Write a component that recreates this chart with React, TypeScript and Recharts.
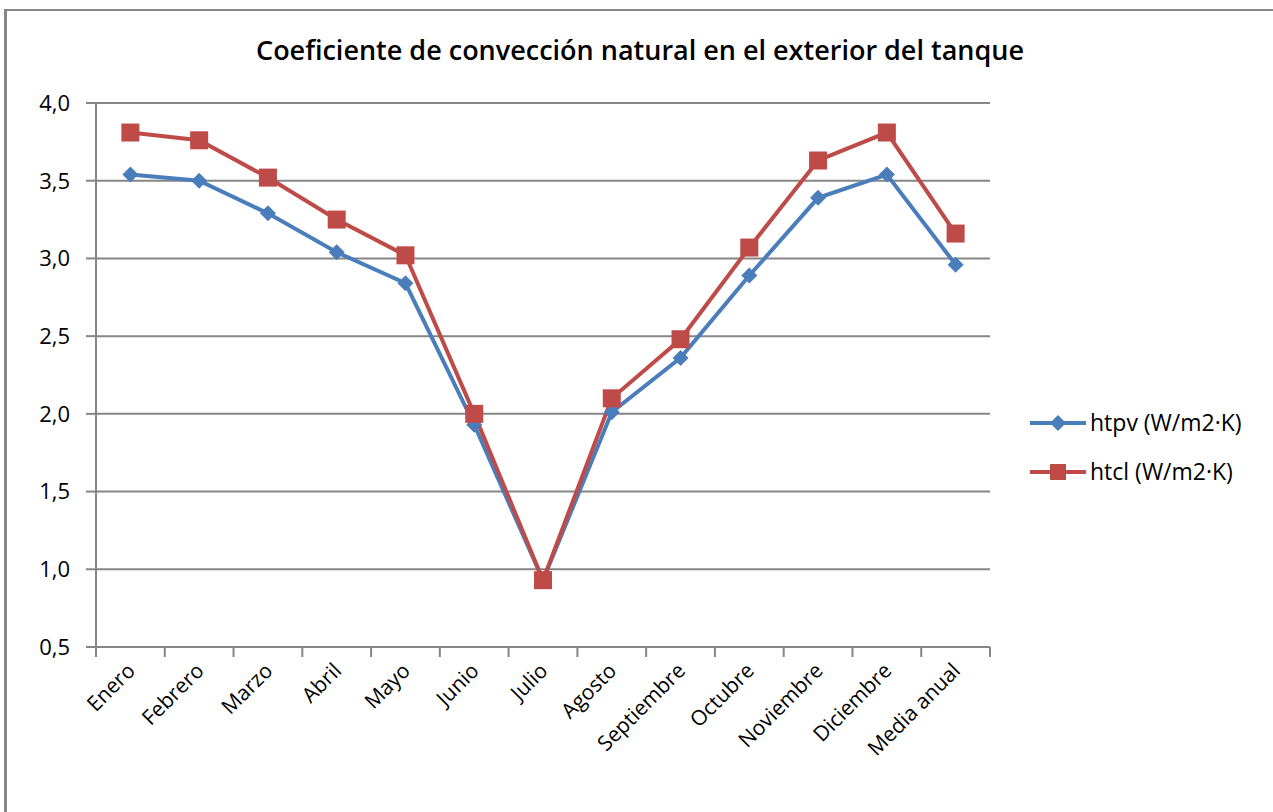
import { LineChart, Line, XAxis, YAxis, CartesianGrid } from 'recharts';

const MONTHS = [
  'Enero', 'Febrero', 'Marzo', 'Abril', 'Mayo', 'Junio', 'Julio',
  'Agosto', 'Septiembre', 'Octubre', 'Noviembre', 'Diciembre', 'Media anual',
];
const HTPV = [3.54, 3.5, 3.29, 3.04, 2.84, 1.93, 0.93, 2.01, 2.36, 2.89, 3.39, 3.54, 2.96];
const HTCL = [3.81, 3.76, 3.52, 3.25, 3.02, 2.0, 0.93, 2.1, 2.48, 3.07, 3.63, 3.81, 3.16];
const Y_TICKS = [0.5, 1, 1.5, 2, 2.5, 3, 3.5, 4];
const EDGE_TICKS = MONTHS.map((_, i) => i).concat(MONTHS.length);

const BLUE = '#4A7EBB';
const RED = '#BE4B48';
const GRID = '#868686';
const FONT = '"Open Sans", sans-serif';

const data = MONTHS.map((m, i) => ({ name: m, idx: i + 0.5, htpv: HTPV[i], htcl: HTCL[i] }));

const Diamond = ({ cx, cy, color, size = 8 }: any) =>
  cx == null ? null : (
    <polygon
      points={`${cx},${cy - size} ${cx + size},${cy} ${cx},${cy + size} ${cx - size},${cy}`}
      fill={color}
    />
  );

const Square = ({ cx, cy, color, size = 9 }: any) =>
  cx == null ? null : <rect x={cx - size} y={cy - size} width={size * 2} height={size * 2} fill={color} />;

const MonthTick = ({ x, y, payload }: any) => (
  <text
    x={x + 6}
    y={y + 16}
    transform={`rotate(-45 ${x + 6} ${y + 16})`}
    textAnchor="end"
    fontSize={21}
    fontFamily={FONT}
    fill="#000"
  >
    {payload.value}
  </text>
);

const LegendBox = () => (
  <svg width={243} height={100} style={{ position: 'absolute', left: 1030, top: 399 }}>
    <line x1={0} y1={24} x2={56} y2={24} stroke={BLUE} strokeWidth={4} />
    <Diamond cx={28} cy={24} color={BLUE} />
    <text x={60} y={32} fontSize={23} fontFamily={FONT} fill="#000">htpv (W/m2·K)</text>
    <line x1={0} y1={73} x2={56} y2={73} stroke={RED} strokeWidth={4} />
    <Square cx={28} cy={73} color={RED} size={8} />
    <text x={60} y={81} fontSize={23} fontFamily={FONT} fill="#000">htcl (W/m2·K)</text>
  </svg>
);

export default function App() {
  return (
    <div style={{ position: 'absolute', left: 0, top: 0, width: 1273, height: 812, background: '#fff', overflow: 'hidden' }}>
      <div
        style={{
          position: 'absolute', left: 4, top: 9, width: 1400, height: 900,
          borderLeft: `3px solid ${GRID}`, borderTop: `2px solid ${GRID}`,
        }}
      />
      <div
        style={{
          position: 'absolute', left: 0, top: 31, width: 1280, textAlign: 'center',
          fontFamily: FONT, fontSize: 27, fontWeight: 600, color: '#000',
        }}
      >
        Coeficiente de convección natural en el exterior del tanque
      </div>
      <div style={{ position: 'absolute', left: 0, top: 0 }}>
        <LineChart width={1273} height={812} data={data} margin={{ top: 103, right: 283, bottom: 45, left: 16 }}>
          <CartesianGrid horizontal vertical={false} stroke={GRID} strokeWidth={2} />
          <XAxis
            xAxisId="b"
            dataKey="name"
            scale="band"
            interval={0}
            height={119}
            axisLine={false}
            tickLine={false}
            tick={<MonthTick />}
          />
          <XAxis
            xAxisId="a"
            dataKey="idx"
            type="number"
            domain={[0, MONTHS.length]}
            ticks={EDGE_TICKS}
            height={1}
            tickFormatter={() => ''}
            tickSize={10}
            stroke={GRID}
            strokeWidth={2}
          />
          <YAxis
            domain={[0.5, 4]}
            ticks={Y_TICKS}
            width={80}
            tickSize={10}
            tickMargin={16}
            stroke={GRID}
            strokeWidth={2}
            tick={{ fill: '#000', fontSize: 22, fontFamily: FONT }}
            tickFormatter={(v: number) => v.toFixed(1).replace('.', ',')}
          />
          <Line
            xAxisId="b"
            dataKey="htpv"
            stroke={BLUE}
            strokeWidth={4}
            dot={<Diamond color={BLUE} />}
            activeDot={false}
            isAnimationActive={false}
          />
          <Line
            xAxisId="b"
            dataKey="htcl"
            stroke={RED}
            strokeWidth={4}
            dot={<Square color={RED} />}
            activeDot={false}
            isAnimationActive={false}
          />
        </LineChart>
      </div>
      <LegendBox />
    </div>
  );
}
